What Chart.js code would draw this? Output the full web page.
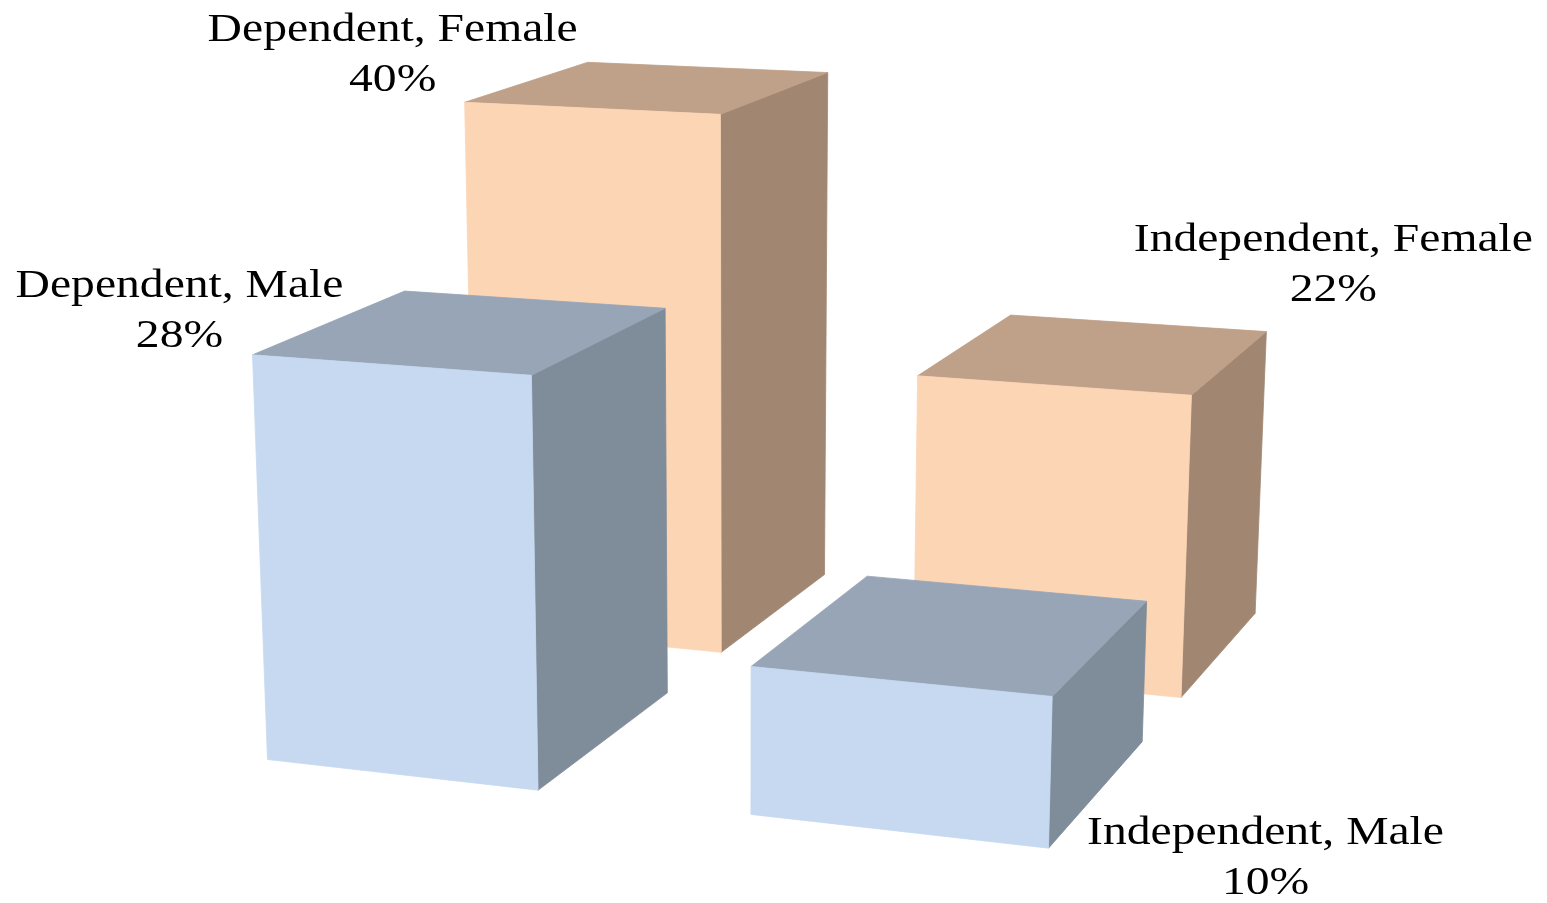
<!DOCTYPE html>
<html>
<head>
<meta charset="utf-8">
<script src="https://cdn.jsdelivr.net/npm/chart.js@4.4.0/dist/chart.umd.min.js"></script>
<style>
  html, body { margin: 0; padding: 0; background: #ffffff; }
  #wrap { width: 1547px; height: 903px; position: relative; }
</style>
</head>
<body>
<div id="wrap"><canvas id="chart"></canvas></div>
<script>
// ---- data ----
const categories = ['Dependent', 'Independent'];
const seriesNames = ['Male', 'Female'];
const maleValues = [28, 10];
const femaleValues = [40, 22];
const valueMax = 40;

// ---- style ----
const faceColors = {
  Male:   { front: '#C6D9F1', top: '#97A5B6', side: '#7F8C99' },
  Female: { front: '#FCD5B5', top: '#BFA088', side: '#A18672' }
};
// depth row for each series (front row 0, back row 1), in depth units
const rowDepth = { Male: 0, Female: 1.46834 };
// perspective camera (normalised: x/1000, y/1000, z)
const cam = [0.5748126, -0.03568481, 0.1788961, 0.1695628,
             0.02241516, -0.6510404, -0.03757222, 0.7483881,
             -0.05873508, -0.04817307, 0.08124882];
function project(X, Y, Z) {
  const x = X / 1000, y = Y / 1000, z = Z;
  const w = cam[8] * x + cam[9] * y + cam[10] * z + 1;
  return [1000 * (cam[0] * x + cam[1] * y + cam[2] * z + cam[3]) / w,
          1000 * (cam[4] * x + cam[5] * y + cam[6] * z + cam[7]) / w];
}
// label anchors: which box corner, and offset of the last text line baseline
const labelAnchor = {
  'Male|0':   { corner: 'FTL', dx: -73, dy: -8 },
  'Female|0': { corner: 'FTL', dx: -72, dy: -11 },
  'Female|1': { corner: 'BTR', dx: 67,  dy: -31 },
  'Male|1':   { corner: 'FBR', dx: 217, dy: 46 }
};
const labelFont = '40px "Liberation Serif", "Times New Roman", serif';
const labelStretch = 1.19;
const lineGap = 50;

const box3d = {
  id: 'box3d',
  afterDatasetsDraw(chart) {
    const ctx = chart.ctx;
    const boxes = [];
    chart.data.datasets.forEach((ds, di) => {
      const meta = chart.getDatasetMeta(di);
      meta.data.forEach((el, i) => {
        const p = el.getProps(['x', 'y', 'base', 'width'], true);
        const xl = p.x - p.width / 2, xr = p.x + p.width / 2;
        const h = p.base - p.y;
        const z0 = rowDepth[ds.label], z1 = z0 + 1;
        const c = {
          FTL: project(xl, h, z0), FTR: project(xr, h, z0),
          BTL: project(xl, h, z1), BTR: project(xr, h, z1),
          FBL: project(xl, 0, z0), FBR: project(xr, 0, z0),
          BBR: project(xr, 0, z1)
        };
        boxes.push({ series: ds.label, idx: i, z: z0, c, value: ds.data[i] });
      });
    });
    // back row first
    boxes.sort((a, b) => b.z - a.z || a.idx - b.idx);
    const poly = (pts, color) => {
      ctx.beginPath();
      ctx.moveTo(pts[0][0], pts[0][1]);
      for (let k = 1; k < pts.length; k++) ctx.lineTo(pts[k][0], pts[k][1]);
      ctx.closePath();
      ctx.fillStyle = color;
      ctx.fill();
      ctx.strokeStyle = color;
      ctx.lineWidth = 0.8;
      ctx.lineJoin = 'round';
      ctx.stroke();
    };
    ctx.save();
    for (const b of boxes) {
      const col = faceColors[b.series], c = b.c;
      poly([c.FTR, c.BTR, c.BBR, c.FBR], col.side);
      poly([c.FTL, c.BTL, c.BTR, c.FTR], col.top);
      poly([c.FTL, c.FTR, c.FBR, c.FBL], col.front);
    }
    // labels
    ctx.fillStyle = '#000000';
    ctx.font = labelFont;
    ctx.textAlign = 'center';
    ctx.textBaseline = 'alphabetic';
    for (const b of boxes) {
      const a = labelAnchor[b.series + '|' + b.idx];
      const pt = b.c[a.corner];
      const cx = pt[0] + a.dx, by = pt[1] + a.dy;
      const lines = [categories[b.idx] + ', ' + b.series, b.value + '%'];
      lines.forEach((t, k) => {
        ctx.save();
        ctx.translate(cx, by - (lines.length - 1 - k) * lineGap);
        ctx.scale(labelStretch, 1);
        ctx.fillText(t, 0, 0);
        ctx.restore();
      });
    }
    ctx.restore();
  }
};

new Chart(document.getElementById('chart'), {
  type: 'bar',
  data: {
    labels: categories,
    datasets: [
      { label: seriesNames[0], data: maleValues, backgroundColor: 'rgba(0,0,0,0)' },
      { label: seriesNames[1], data: femaleValues, backgroundColor: 'rgba(0,0,0,0)' }
    ]
  },
  options: {
    responsive: true,
    maintainAspectRatio: false,
    animation: false,
    layout: { padding: 0 },
    datasets: { bar: { grouped: false, categoryPercentage: 1, barPercentage: 0.571123 } },
    plugins: { legend: { display: false }, tooltip: { enabled: false } },
    scales: {
      x: { display: false },
      y: { display: false, min: 0, max: valueMax }
    }
  },
  plugins: [box3d]
});
</script>
</body>
</html>
